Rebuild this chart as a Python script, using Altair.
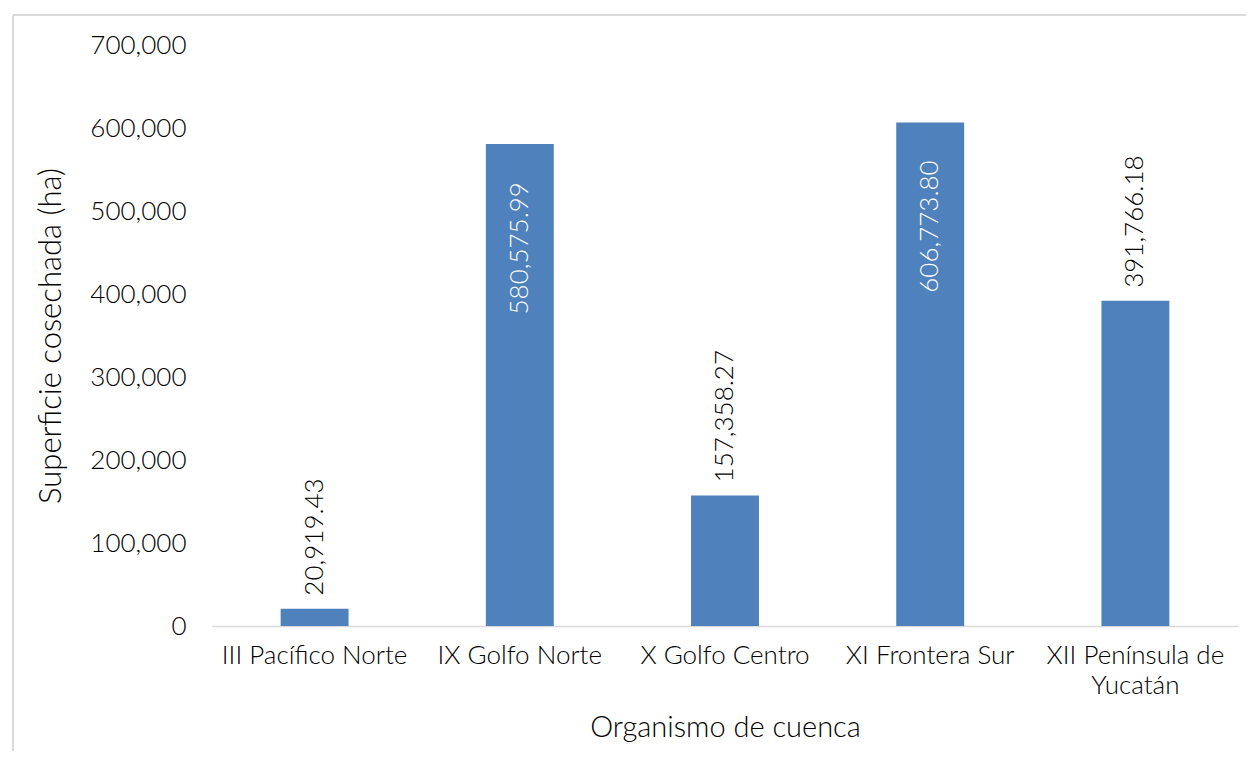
import altair as alt
import pandas as pd

categorias = ["III Pacífico Norte", "IX Golfo Norte", "X Golfo Centro",
              "XI Frontera Sur", "XII Península de Yucatán"]
superficie = [20919.43, 580575.99, 157358.27, 606773.80, 391766.18]
y_ticks = [0, 100000, 200000, 300000, 400000, 500000, 600000, 700000]

df = pd.DataFrame({"cat": categorias, "val": superficie})

FONT = "Lato"
FW = 300
LFS = 26
DFS = 26

x = alt.X("cat:N", sort=categorias,
          scale=alt.Scale(paddingInner=0.669, paddingOuter=0.3345),
          axis=alt.Axis(title="Organismo de cuenca", labelAngle=0, ticks=False,
                        domainColor="#D9D9D9", domainWidth=1.5,
                        labelFont=FONT, labelFontSize=LFS, labelFontWeight=FW,
                        labelColor="#000000", labelLimit=400,
                        labelPadding=16, labelLineHeight=30,
                        labelExpr="datum.label == 'XII Península de Yucatán' ? ['XII Península de', 'Yucatán'] : datum.label",
                        titleFont=FONT, titleFontSize=29, titleFontWeight=FW,
                        titleColor="#000000", titlePadding=15))
y = alt.Y("val:Q",
          scale=alt.Scale(domain=[0, 700000], nice=False),
          axis=alt.Axis(title="Superficie cosechada (ha)", values=y_ticks, format=",.0f",
                        grid=False, domain=False, ticks=False,
                        labelFont=FONT, labelFontSize=LFS, labelFontWeight=FW,
                        labelColor="#000000",
                        labelPadding=26,
                        titleFont=FONT, titleFontSize=31, titleFontWeight=FW,
                        titleColor="#000000", titlePadding=22))

base = alt.Chart(df)

bars = base.mark_bar(color="#4F81BD").encode(x=x, y=y)

outside = base.transform_filter("datum.val < 500000").mark_text(
    angle=270, align="left", baseline="middle", dx=13,
    font=FONT, fontSize=DFS, fontWeight=FW, color="#000000"
).encode(x=alt.X("cat:N", sort=categorias), y="val:Q",
         text=alt.Text("val:Q", format=",.2f"))

inside = base.transform_filter("datum.val >= 500000").mark_text(
    angle=270, align="right", baseline="middle", dx=-38,
    font=FONT, fontSize=DFS, fontWeight=FW, color="#FFFFFF"
).encode(x=alt.X("cat:N", sort=categorias), y="val:Q",
         text=alt.Text("val:Q", format=",.2f"))

border_top = base.mark_rule(color="#D9D9D9", strokeWidth=1.5).encode(
    x=alt.value(-199), x2=alt.value(1040), y=alt.value(-30))
border_left = base.mark_rule(color="#D9D9D9", strokeWidth=1.5).encode(
    x=alt.value(-199), y=alt.value(-30), y2=alt.value(720))

chart = alt.layer(bars, outside, inside, border_top, border_left).properties(
    width=1026, height=581,
    background="#FFFFFF",
    autosize=alt.AutoSizeParams(type="none"),
    padding={"left": 204, "top": 37, "right": 8, "bottom": 125},
).configure_view(strokeWidth=0, stroke="transparent")

chart.save("out.html", embed_options={"renderer": "svg", "actions": False})
